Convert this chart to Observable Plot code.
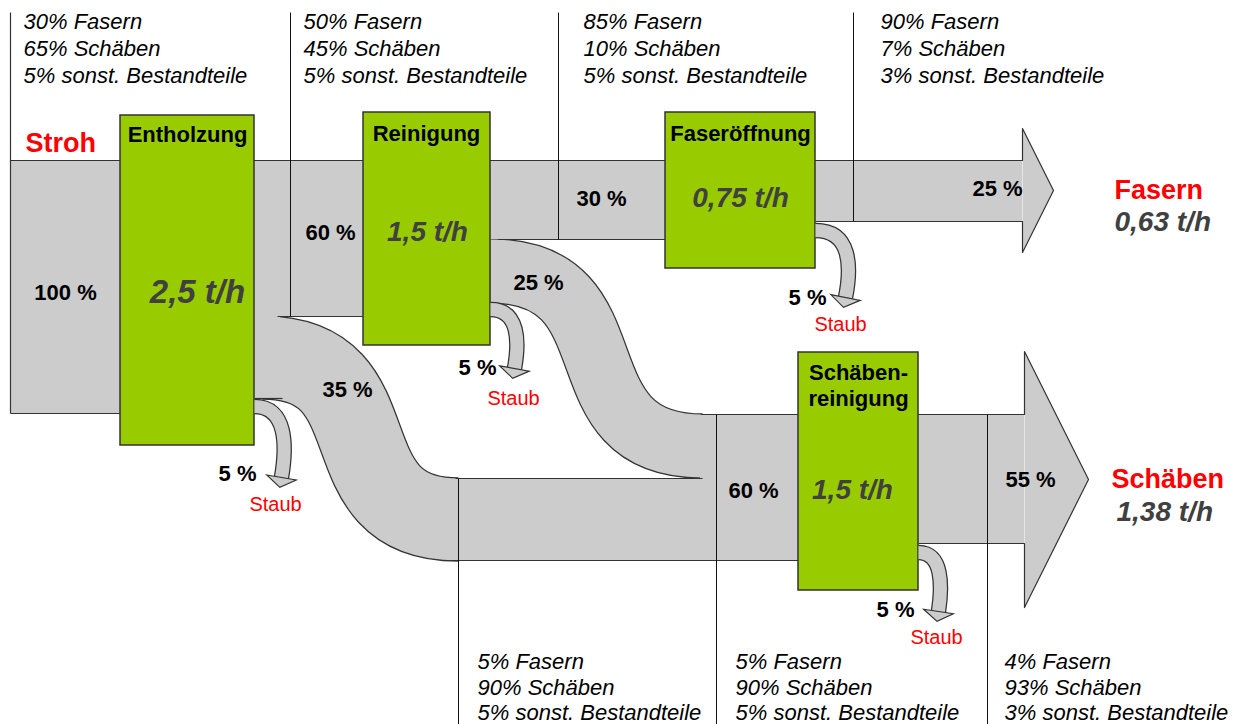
<!DOCTYPE html>
<html><head><meta charset="utf-8">
<script src="https://cdn.jsdelivr.net/npm/d3@7"></script>
<script src="https://cdn.jsdelivr.net/npm/@observablehq/plot@0.6"></script>
<style>body{margin:0;background:#fff} #chart svg{display:block}</style>
</head><body><div id="chart"></div>
<script>
// ---------- data (labels and values) ----------
const inputName = "Stroh";
const stages = ["Entholzung", "Reinigung", "Faseröffnung", "Schäben-\nreinigung"];
const throughput = ["2,5 t/h", "1,5 t/h", "0,75 t/h", "1,5 t/h"];
const flowShares = [100, 60, 35, 30, 25, 25, 60, 55];   // % of input straw
const dustShares = [5, 5, 5, 5];                        // % lost as dust per stage
const dustLabel = "Staub";
const components = ["Fasern", "Schäben", "sonst. Bestandteile"];
const compositionTop = [[30, 65, 5], [50, 45, 5], [85, 10, 5], [90, 7, 3]];
const compositionBottom = [[5, 90, 5], [5, 90, 5], [4, 93, 3]];
const products = ["Fasern", "Schäben"];
const productRates = ["0,63 t/h", "1,38 t/h"];

// ---------- layout (diagram geometry, in picture units) ----------
const G = "#cccccc", D = "#333333", GREEN = "#99cc00", RED = "#ff0000", RATE = "#404040";
const FONT = "Liberation Sans, Arial, Helvetica, sans-serif";

const boxX1 = [120, 363, 665, 798], boxX2 = [254, 490, 815, 918];
const boxY1 = [115, 112, 112, 352], boxY2 = [445, 345, 268, 590];
const boxTitleX = [187, 426, 740, 858], boxTitleY = [133, 132, 132, 384];
const boxRateX = [197, 427, 740, 852], boxRateY = [292, 232, 198, 490];
const boxRateSize = [33, 28, 28, 28];

const flowLabelX = [65, 330, 347, 601, 538, 997, 753, 1030];
const flowLabelY = [292, 232, 389, 198, 282, 188, 490, 479];

const bandX1 = [10, 254, 254, 490, 815, 458, 700, 918];
const bandX2 = [120, 363, 280, 665, 1022, 716, 798, 1024];
const bandY1 = [160, 160, 300, 160, 160, 478, 414, 414];
const bandY2 = [413, 316, 398, 239, 221, 560, 560, 543];

// curved flows (Entholzung -> Schäben, Reinigung -> Schäben)
const curveX1 = [262, 490], curveY1 = [357, 270.5];
const curveX2 = [458, 702], curveY2 = [519, 445.5];
const curveW = [82, 63];
const curveTension = 0.7;

// arrow heads of the two product streams (polyline, filled)
const headPts = [
  [1022, 160, 0], [1022, 128, 0], [1053, 190, 0], [1022, 252, 0], [1022, 221, 0],
  [1024, 414, 1], [1024, 351, 1], [1088, 479, 1], [1024, 607, 1], [1024, 543, 1]
];

// outline segments and separator rules
const segs = [
  [10, 12, 10, 413], [10, 413, 120, 413], [10, 160, 1022, 160],
  [277, 316, 363, 316], [254, 398, 282, 398], [498, 239, 665, 239],
  [815, 221, 1022, 221], [455, 478, 702, 478], [450, 560, 798, 560],
  [700, 414, 1024, 414], [918, 543, 1024, 543]
];
const seps = [
  [290, 12, 290, 316], [558, 12, 558, 239], [853, 12, 853, 221],
  [458, 478, 458, 724], [716, 414, 716, 724], [987, 414, 987, 724]
];

// dust arrows
const dustX1 = [254, 490, 815, 918], dustY1 = [406, 309, 230, 552];
const dustX2 = [281, 514, 845, 938], dustY2 = [477, 368, 297, 611];
const dustPctX = [237, 477, 807, 895], dustPctY = [473, 367, 297, 609];
const dustLblX = [275, 513, 840, 936], dustLblY = [504, 398, 324, 637];

const compTopX = [23, 303, 583, 880], compTopY = 47;
const compBotX = [477, 735, 1004], compBotY = 686;

const prodX = [1114, 1111], prodY = [190, 479];
const prodRateX = [1114, 1116], prodRateY = [222, 512];

// ---------- helpers ----------
const idx = (n) => d3.range(n);
const compText = (c) => c.map((v, j) => `${v}% ${components[j]}`).join("\n");

// horizontal S-curve with adjustable tension (0.5 = d3 bump-x)
function sCurve(k) {
  return (context) => {
    let pts = [];
    return {
      areaStart() {}, areaEnd() {},
      lineStart() { pts = []; },
      point(x, y) { pts.push([+x, +y]); },
      lineEnd() {
        if (!pts.length) return;
        context.moveTo(pts[0][0], pts[0][1]);
        for (let i = 1; i < pts.length; ++i) {
          const [x0, y0] = pts[i - 1], [x1, y1] = pts[i], dx = x1 - x0;
          context.bezierCurveTo(x0 + k * dx, y0, x1 - k * dx, y1, x1, y1);
        }
      }
    };
  };
}
// elbow: leaves horizontally, turns down, ends slightly inward
const elbow = (context) => {
  let pts = [];
  return {
    areaStart() {}, areaEnd() {},
    lineStart() { pts = []; },
    point(x, y) { pts.push([+x, +y]); },
    lineEnd() {
      const [x0, y0] = pts[0], [x1, y1] = pts[1], dx = x1 - x0, dy = y1 - y0;
      context.moveTo(x0, y0);
      context.bezierCurveTo(x0 + 1.2 * dx, y0, x1 + 0.2 * dx, y0 + 0.55 * dy, x1, y1);
    }
  };
};
const dustRot = idx(4).map(i => {
  const dx = dustX2[i] - dustX1[i], dy = dustY2[i] - dustY1[i];
  return Math.atan2(0.45 * dy, -0.2 * dx) * 180 / Math.PI - 90;
});
// flat arrow-head symbol, pointing down in local coordinates
const headSymbol = {
  draw(ctx) { ctx.moveTo(-15, 0); ctx.lineTo(15, 0); ctx.lineTo(0, 10); ctx.closePath(); }
};

const flowCurve = sCurve(curveTension);
const linkOpts = {x1: i => curveX1[i], y1: i => curveY1[i], x2: i => curveX2[i], y2: i => curveY2[i], curve: flowCurve, strokeLinecap: "butt"};
const dustOpts = {x1: (d, i) => dustX1[i], y1: (d, i) => dustY1[i], x2: (d, i) => dustX2[i], y2: (d, i) => dustY2[i], curve: elbow, strokeLinecap: "butt"};

const plot = Plot.plot({
  width: 1235, height: 724,
  marginTop: 0, marginRight: 0, marginBottom: 0, marginLeft: 0,
  x: {domain: [0, 1235], range: [0, 1235], axis: null},
  y: {domain: [0, 724], range: [0, 724], axis: null},
  style: {fontFamily: FONT, background: "#fff"},
  marks: [
    // curved flows: outline, then fill
    Plot.link(idx(2), {...linkOpts, stroke: D, strokeWidth: i => curveW[i] + 2.4}),
    Plot.link(idx(2), {...linkOpts, stroke: G, strokeWidth: i => curveW[i]}),
    // straight bands
    Plot.rect(idx(bandX1.length), {x1: i => bandX1[i], x2: i => bandX2[i], y1: i => bandY1[i], y2: i => bandY2[i], fill: G}),
    // arrow heads
    Plot.line(headPts, {x: d => d[0], y: d => d[1], z: d => d[2], fill: G, stroke: D, strokeWidth: 1.2}),
    // outlines
    Plot.link(segs, {x1: d => d[0], y1: d => d[1], x2: d => d[2], y2: d => d[3], stroke: D, strokeWidth: 1.2}),
    Plot.link(seps, {x1: d => d[0], y1: d => d[1], x2: d => d[2], y2: d => d[3], stroke: "#111", strokeWidth: 1}),
    // process boxes
    Plot.rect(stages, {x1: (d, i) => boxX1[i], x2: (d, i) => boxX2[i], y1: (d, i) => boxY1[i], y2: (d, i) => boxY2[i],
      fill: GREEN, stroke: D, strokeWidth: 1.5}),
    // dust arrows
    Plot.link(dustShares, {...dustOpts, stroke: D, strokeWidth: 15.5}),
    Plot.link(dustShares, {...dustOpts, stroke: G, strokeWidth: 13}),
    Plot.dot(dustShares, {x: (d, i) => dustX2[i], y: (d, i) => dustY2[i], rotate: (d, i) => dustRot[i],
      symbol: headSymbol, r: 5, fill: G, stroke: D, strokeWidth: 1.2}),
    // texts
    Plot.text([inputName], {x: 25, y: 143, text: d => d, textAnchor: "start", fill: RED, fontWeight: "bold", fontSize: 27}),
    Plot.text(stages, {x: (d, i) => boxTitleX[i], y: (d, i) => boxTitleY[i], text: d => d, fontWeight: "bold", fontSize: 22,
      lineHeight: 1.18, fill: "#000"}),
    ...throughput.map((t, i) => Plot.text([t], {x: boxRateX[i], y: boxRateY[i], text: d => d, fontWeight: "bold",
      fontStyle: "italic", fontSize: boxRateSize[i], fill: RATE})),
    Plot.text(flowShares, {x: (d, i) => flowLabelX[i], y: (d, i) => flowLabelY[i], text: d => `${d} %`,
      fontWeight: "bold", fontSize: 22, fill: "#000"}),
    Plot.text(dustShares, {x: (d, i) => dustPctX[i], y: (d, i) => dustPctY[i], text: d => `${d} %`,
      fontWeight: "bold", fontSize: 22, fill: "#000"}),
    Plot.text(dustShares, {x: (d, i) => dustLblX[i], y: (d, i) => dustLblY[i], text: () => dustLabel,
      fontSize: 20, fill: RED}),
    Plot.text(compositionTop, {x: (d, i) => compTopX[i], y: compTopY, text: compText, textAnchor: "start",
      fontStyle: "italic", fontSize: 22, lineHeight: 1.227, fill: "#000"}),
    Plot.text(compositionBottom, {x: (d, i) => compBotX[i], y: compBotY, text: compText, textAnchor: "start",
      fontStyle: "italic", fontSize: 22, lineHeight: 1.16, fill: "#000"}),
    Plot.text(products, {x: (d, i) => prodX[i], y: (d, i) => prodY[i], text: d => d, textAnchor: "start",
      fontWeight: "bold", fontSize: 27, fill: RED}),
    Plot.text(productRates, {x: (d, i) => prodRateX[i], y: (d, i) => prodRateY[i], text: d => d, textAnchor: "start",
      fontWeight: "bold", fontStyle: "italic", fontSize: 28, fill: RATE})
  ]
});
document.getElementById("chart").append(plot);
</script></body></html>
